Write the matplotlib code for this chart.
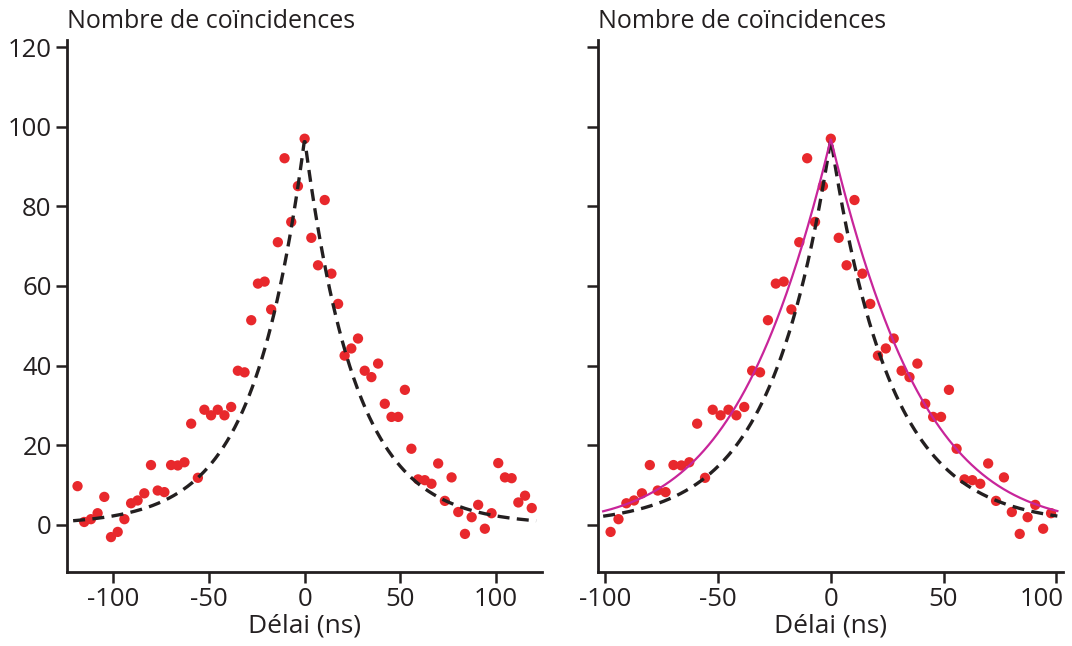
import numpy as np
import matplotlib
matplotlib.use('Agg')
import matplotlib.pyplot as plt
import matplotlib.transforms as mtransforms

plt.rcParams['font.family'] = ['Open Sans', 'DejaVu Sans']
plt.rcParams['axes.unicode_minus'] = False

# delay bins (ns) and coincidence counts
delays = [-118.7, -115.2, -111.7, -108.2, -104.7, -101.2, -97.7, -94.2, -90.7, -87.3,
          -83.8, -80.3, -76.8, -73.3, -69.8, -66.3, -62.8, -59.3, -55.8, -52.4,
          -48.9, -45.4, -41.9, -38.4, -34.9, -31.4, -27.9, -24.4, -20.9, -17.5,
          -14.0, -10.5, -7.0, -3.5, 0.0, 3.5, 7.0, 10.5, 14.0, 17.5,
          20.9, 24.4, 27.9, 31.4, 34.9, 38.4, 41.9, 45.4, 48.9, 52.4,
          55.8, 59.3, 62.8, 66.3, 69.8, 73.3, 76.8, 80.3, 83.8, 87.3,
          90.7, 94.2, 97.7, 101.2, 104.7, 108.2, 111.7, 115.2, 118.7]
counts = [9.7, 0.7, 1.4, 2.9, 7.0, -3.1, -1.8, 1.4, 5.4, 6.1,
          7.9, 15.0, 8.6, 8.2, 15.0, 14.9, 15.7, 25.4, 11.8, 28.9,
          27.5, 28.9, 27.5, 29.6, 38.7, 38.3, 51.4, 60.6, 61.1, 54.1,
          71.0, 92.1, 76.1, 85.1, 97.0, 72.1, 65.2, 81.6, 63.1, 55.5,
          42.5, 44.3, 46.8, 38.7, 37.1, 40.5, 30.4, 27.1, 27.1, 33.9,
          19.1, 11.4, 11.2, 10.3, 15.4, 6.0, 11.9, 3.2, -2.3, 1.9,
          5.0, -1.0, 2.9, 15.5, 11.9, 11.7, 5.6, 7.3, 4.2]

# model curves: peak height and decay constants (ns)
peak = 97.0
tau_dash = 26.5
tau_fit = 41.2
gauss_fit = 11261.0

ink = '#231f20'
red = '#e8282c'
magenta = '#c8259a'

delays = np.array(delays)
counts = np.array(counts)


def exp_model(t):
    return peak * np.exp(-np.abs(t) / tau_dash)


def fit_model(t):
    return peak * np.exp(-np.abs(t) / tau_fit - t ** 2 / gauss_fit)


def style_axes(ax, labels=True):
    for side in ['top', 'right']:
        ax.spines[side].set_visible(False)
    for side in ['left', 'bottom']:
        ax.spines[side].set_linewidth(2.0)
        ax.spines[side].set_color(ink)
    ax.tick_params(direction='out', length=8, width=1.8, color=ink,
                   labelsize=18.5, labelcolor=ink, pad=3)
    ax.set_ylim(-11.8, 121.8)
    ax.set_yticks([0, 20, 40, 60, 80, 100, 120])
    if not labels:
        ax.set_yticklabels([])
    ax.set_xticks([-100, -50, 0, 50, 100])
    ax.set_xlabel('Délai (ns)', fontsize=19, color=ink, labelpad=1)
    ax.text(0.0, 1.012, 'Nombre de coïncidences', transform=ax.transAxes,
            fontsize=18, color=ink, ha='left', va='bottom')


fig = plt.figure(figsize=(10.72, 6.46), dpi=100)
ax1 = fig.add_axes([0.0625, 0.115, 0.4428, 0.823])
ax2 = fig.add_axes([0.5576, 0.115, 0.434, 0.823])

# left panel: all points and exponential
t1 = np.linspace(-121, 121, 600)
ax1.plot(t1, exp_model(t1), color=ink, lw=2.4, ls=(0, (3.6, 2.2)), zorder=3)
ax1.scatter(delays, counts, s=55, color=red, edgecolors='none', zorder=2)
ax1.set_xlim(-124.2, 123.9)
style_axes(ax1)

# right panel: central window with both curves
mask = np.abs(delays) <= 100
t2 = np.linspace(-101, 100.5, 600)
ax2.plot(t2, exp_model(t2), color=ink, lw=2.4, ls=(0, (3.6, 2.2)), zorder=3)
ax2.plot(t2, fit_model(t2), color=magenta, lw=1.6, zorder=4)
ax2.scatter(delays[mask], counts[mask], s=55, color=red, edgecolors='none', zorder=2)
ax2.set_xlim(-103.4, 103.0)
style_axes(ax2, labels=False)

# last tick label on the right panel sits left of its tick so it fits
last = ax2.get_xticklabels()[-1]
last.set_horizontalalignment('right')
last.set_transform(last.get_transform() + mtransforms.ScaledTranslation(8 / 100, 0, fig.dpi_scale_trans))

fig.savefig('out.png', dpi=100)
